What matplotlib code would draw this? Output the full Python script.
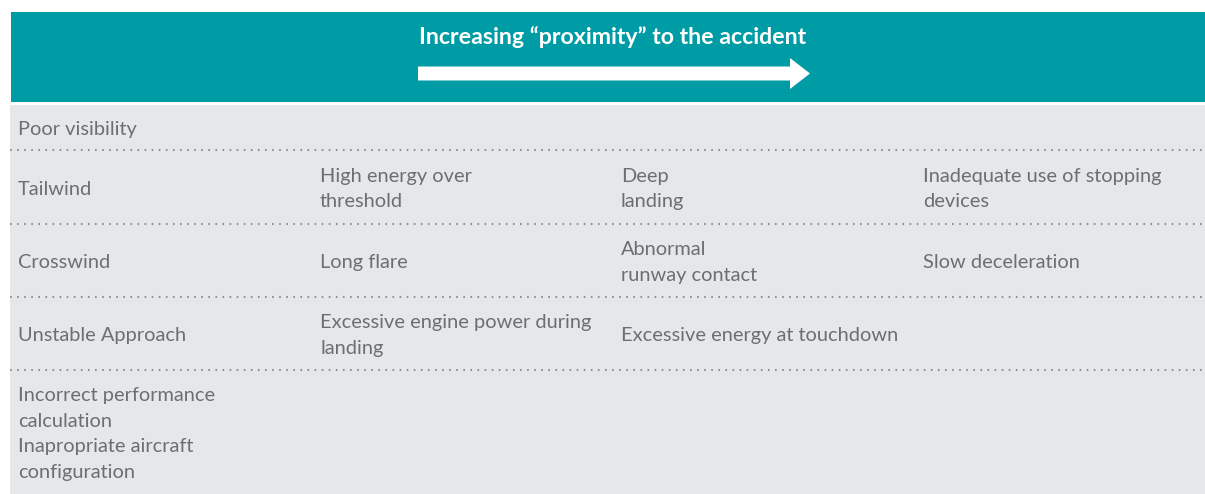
import matplotlib.pyplot as plt
import matplotlib.patches as patches

# table content, one list per column (rows top to bottom)
col_precursors = ["Poor visibility", "Tailwind", "Crosswind", "Unstable Approach",
                  "Incorrect performance\ncalculation\nInapropriate aircraft\nconfiguration"]
col_threshold = ["", "High energy over\nthreshold", "Long flare",
                 "Excessive engine power during\nlanding", ""]
col_touchdown = ["", "Deep\nlanding", "Abnormal\nrunway contact",
                 "Excessive energy at touchdown", ""]
col_rollout = ["", "Inadequate use of stopping\ndevices", "Slow deceleration", "", ""]
columns = [col_precursors, col_threshold, col_touchdown, col_rollout]
header = "Increasing \u201cproximity\u201d to the accident"

TEAL = "#009ca6"
GREY_BG = "#e6e7e8"
TXT = "#6d6e71"
W, H = 1205, 494

fig = plt.figure(figsize=(W / 100, H / 100), dpi=100)
ax = fig.add_axes([0, 0, 1, 1])
ax.set_xlim(0, W)
ax.set_ylim(H, 0)
ax.axis('off')

# header band + body
ax.add_patch(patches.Rectangle((11, 12), W - 11, 90, facecolor=TEAL, edgecolor='none'))
ax.add_patch(patches.Rectangle((10, 105), W - 10, H - 105, facecolor=GREY_BG, edgecolor='none'))

ax.text(613, 37, header, color='white', fontsize=16.7, fontweight='bold',
        family='Lato', ha='center', va='center')
ax.add_patch(patches.FancyArrow(418, 73.5, 392, 0, width=14, head_width=31, head_length=20,
                                length_includes_head=True, facecolor='white', edgecolor='none'))

# row boundaries and column positions
row_edges = [105, 150, 224, 297, 370, 494]
col_x = [18, 320, 621, 923]

for y in row_edges[1:-1]:
    ax.hlines(y, 10, W, colors='#8f9094', linewidth=1.5, linestyles=(0, (0.8, 2.6)))

for cx, cells in zip(col_x, columns):
    for i, label in enumerate(cells):
        if not label:
            continue
        yc = (row_edges[i] + row_edges[i + 1]) / 2 + 2
        ax.text(cx, yc, label, color=TXT, fontsize=14.4, family='Lato',
                ha='left', va='center', linespacing=1.62)

fig.savefig("out.png", dpi=100)
